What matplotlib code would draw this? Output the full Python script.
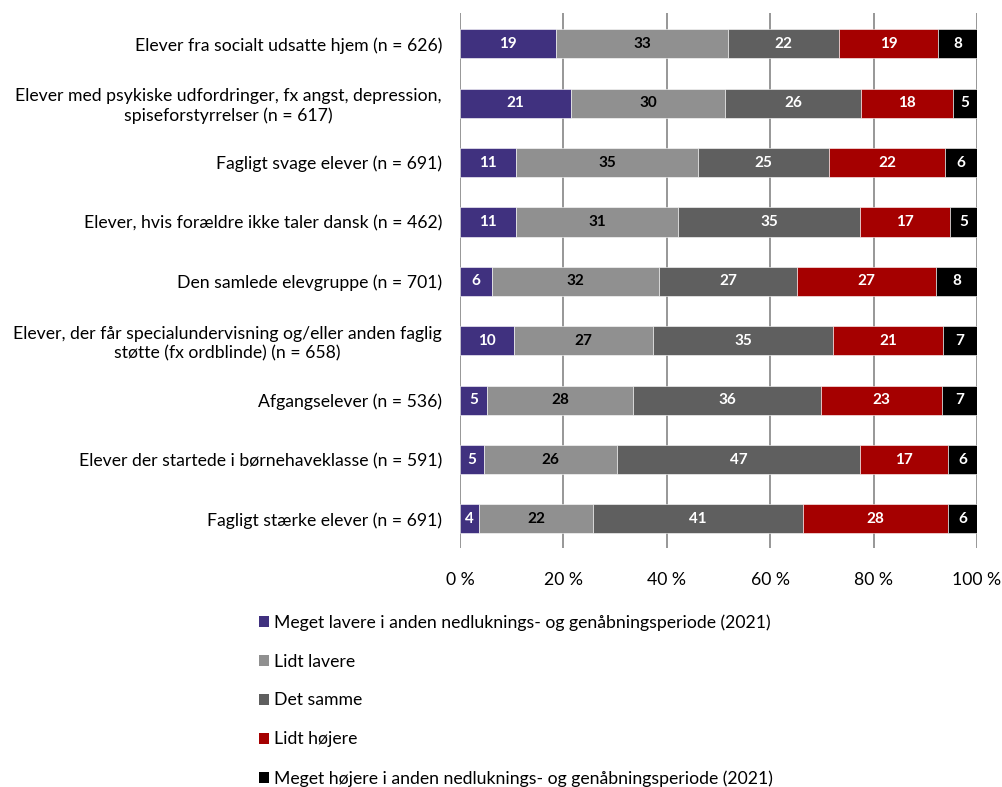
import matplotlib.pyplot as plt
from matplotlib.patches import Patch

plt.rcParams['font.family'] = ['Lato', 'DejaVu Sans']

categories = [
    'Elever fra socialt udsatte hjem (n = 626)',
    'Elever med psykiske udfordringer, fx angst, depression,\nspiseforstyrrelser (n = 617)',
    'Fagligt svage elever (n = 691)',
    'Elever, hvis forældre ikke taler dansk (n = 462)',
    'Den samlede elevgruppe (n = 701)',
    'Elever, der får specialundervisning og/eller anden faglig\nstøtte (fx ordblinde) (n = 658)',
    'Afgangselever (n = 536)',
    'Elever der startede i børnehaveklasse (n = 591)',
    'Fagligt stærke elever (n = 691)',
]

series = [
    'Meget lavere i anden nedluknings- og genåbningsperiode (2021)',
    'Lidt lavere',
    'Det samme',
    'Lidt højere',
    'Meget højere i anden nedluknings- og genåbningsperiode (2021)',
]

meget_lavere = [18.6, 21.4, 10.8, 10.8, 6.2, 10.4, 5.2, 4.6, 3.7]
lidt_lavere = [33.2, 29.9, 35.3, 31.4, 32.3, 27.0, 28.3, 25.8, 22.0]
det_samme = [21.6, 26.3, 25.3, 35.2, 26.7, 34.8, 36.3, 47.0, 40.6]
lidt_hojere = [19.0, 17.8, 22.4, 17.4, 26.9, 21.2, 23.4, 17.0, 28.1]
meget_hojere = [7.6, 4.6, 6.2, 5.2, 7.9, 6.6, 6.8, 5.6, 5.6]

colors = ['#40317f', '#909090', '#5f5f5f', '#a50000', '#000000']
text_colors = ['white', 'black', 'white', 'white', 'white']

fig = plt.figure(figsize=(10.02, 7.87), dpi=100)
ax = fig.add_axes([460 / 1002, 1 - 548 / 787, 517 / 1002, 535 / 787])

y = range(len(categories))
left = [0] * len(categories)
for vals, c, tc in zip([meget_lavere, lidt_lavere, det_samme, lidt_hojere, meget_hojere],
                       colors, text_colors):
    bars = ax.barh(y, vals, left=left, height=0.49, color=c,
                   edgecolor='white', linewidth=0.4, zorder=3)
    for b, v in zip(bars, vals):
        ax.text(b.get_x() + b.get_width() / 2, b.get_y() + b.get_height() / 2,
                f'{v:.0f}', ha='center', va='center', color=tc,
                fontsize=11, fontweight='bold', zorder=4)
    left = [l + v for l, v in zip(left, vals)]

ax.set_xlim(0, 100)
ax.set_ylim(8.49, -0.52)
ax.set_xticks([0, 20, 40, 60, 80, 100])
ax.set_xticklabels(['0 %', '20 %', '40 %', '60 %', '80 %', '100 %'], fontsize=12.7)
ax.set_yticks(list(y))
ax.set_yticklabels(categories, fontsize=12.7, multialignment='center')
ax.tick_params(axis='both', length=0)
ax.tick_params(axis='y', pad=13)
ax.tick_params(axis='x', pad=17)
for s in ax.spines.values():
    s.set_visible(False)
ax.grid(axis='x', color='#858585', linewidth=1.2, zorder=0)

handles = [Patch(facecolor=c, edgecolor='none') for c in colors]
fig.legend(handles, series, loc='upper left', bbox_to_anchor=(252 / 1002, 1 - 607 / 787),
           frameon=False, fontsize=12.7, handlelength=0.57, handleheight=0.57,
           handletextpad=0.3, labelspacing=1.3, borderaxespad=0)

fig.savefig('out.png', dpi=100)
